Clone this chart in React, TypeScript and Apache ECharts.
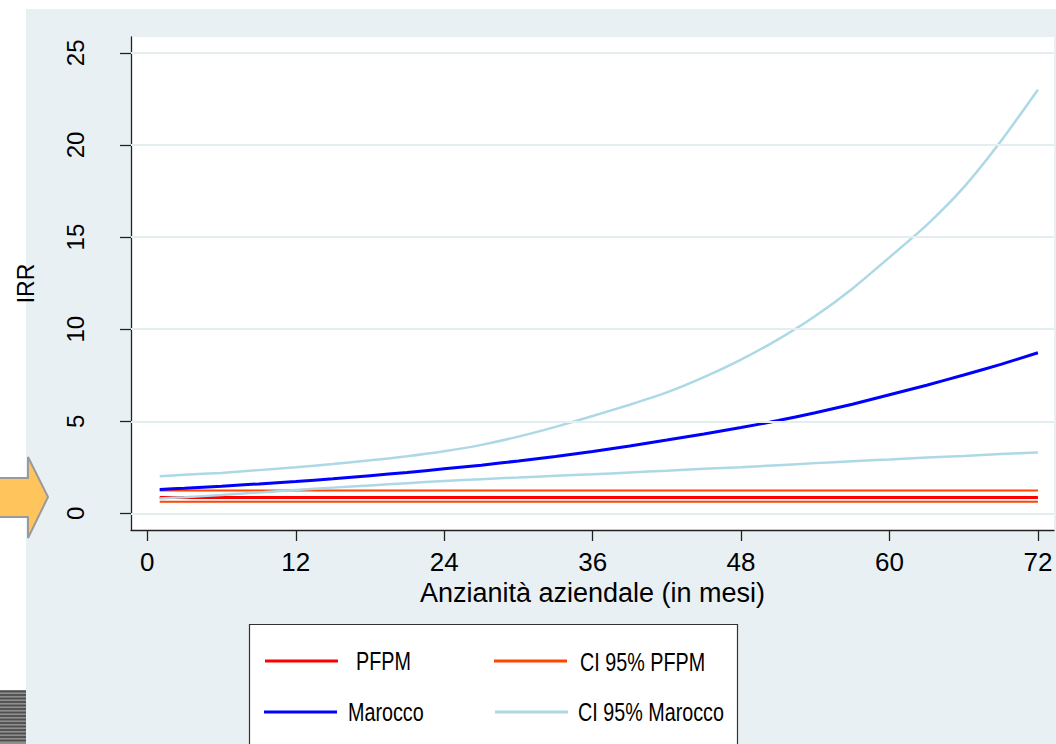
import React, { useEffect, useRef } from "react";
import * as echarts from "echarts";

// ---- data ----
const months = [1, 3, 6, 9, 12, 15, 18, 21, 24, 27, 30, 33, 36, 39, 42, 45, 48, 51, 54, 57, 60, 63, 66, 69, 72];
const marocco = [1.3, 1.37, 1.48, 1.6, 1.73, 1.88, 2.05, 2.22, 2.42, 2.62, 2.85, 3.09, 3.36, 3.66, 3.98, 4.31, 4.66, 5.04, 5.46, 5.93, 6.44, 6.96, 7.51, 8.09, 8.72];
const maroccoUpper = [2.02, 2.1, 2.2, 2.35, 2.5, 2.68, 2.88, 3.1, 3.37, 3.72, 4.17, 4.7, 5.29, 5.9, 6.57, 7.4, 8.35, 9.45, 10.72, 12.2, 13.9, 15.65, 17.7, 20.2, 23.0];
const maroccoLower = [0.81, 0.88, 1.0, 1.14, 1.27, 1.4, 1.52, 1.64, 1.76, 1.86, 1.95, 2.04, 2.12, 2.22, 2.32, 2.42, 2.51, 2.62, 2.73, 2.83, 2.93, 3.03, 3.12, 3.22, 3.31];

const pfpmMonths = [1, 72];
const pfpm = [0.87, 0.87];
const pfpmUpper = [1.25, 1.25];
const pfpmLower = [0.63, 0.63];

const xTicks = [0, 12, 24, 36, 48, 60, 72];
const yTicks = [0, 5, 10, 15, 20, 25];

const names = ["PFPM", "CI 95% PFPM", "Marocco", "CI 95% Marocco"];
const colors = ["#FF0000", "#FF4500", "#0000FF", "#ADD8E6"];

const FONT = "'Liberation Sans', Arial, sans-serif";

const pairs = (xs: number[], ys: number[]) => xs.map((m, i) => [m, ys[i]]);

export default function App() {
  const ref = useRef<HTMLDivElement>(null);

  useEffect(() => {
    if (!ref.current) return;
    const chart = echarts.init(ref.current, undefined, { renderer: "svg" });

    const lineSeries = (name: string, xs: number[], data: number[], color: string, width: number, extra: any = {}) => ({
      type: "line",
      name,
      data: pairs(xs, data),
      showSymbol: false,
      symbol: "none",
      smooth: 0.2,
      lineStyle: { color, width },
      itemStyle: { color },
      emphasis: { disabled: true },
      ...extra,
    });

    // decorative stripes on the left (slide artefact)
    const stripes: any[] = [];
    for (let y = 691.5; y < 744; y += 3.5) {
      stripes.push({
        type: "line",
        z: 2,
        shape: { x1: 0, y1: y, x2: 26, y2: y },
        style: { stroke: "#4e4e4e", lineWidth: 1.8 },
      });
    }

    // legend placement (icons from the legend component, labels as scaled text)
    const legendPos = [
      { left: 265, top: 648, tx: 356, ty: 661 },
      { left: 494, top: 648, tx: 580, ty: 662 },
      { left: 264, top: 699, tx: 348, ty: 712 },
      { left: 495, top: 699, tx: 578, ty: 712 },
    ];
    const legendLabels = names.map((n, i) => ({
      type: "text",
      z: 20,
      x: legendPos[i].tx,
      y: legendPos[i].ty,
      scaleX: 0.76,
      style: {
        text: n,
        fontSize: 26,
        fontFamily: FONT,
        fill: "#000",
        textAlign: "left",
        textVerticalAlign: "middle",
      },
    }));

    const option: any = {
      animation: false,
      backgroundColor: "transparent",
      textStyle: { fontFamily: FONT },
      grid: {
        left: 131,
        top: 37,
        right: 2,
        bottom: 214,
        show: true,
        backgroundColor: "#FFFFFF",
        borderWidth: 0,
        containLabel: false,
      },
      xAxis: {
        type: "value",
        min: -1.32,
        max: 73.3,
        name: "Anzianità aziendale (in mesi)",
        nameLocation: "middle",
        nameGap: 40,
        nameTextStyle: { fontSize: 27, color: "#000", fontFamily: FONT },
        axisLine: { show: true, onZero: false, lineStyle: { color: "#222", width: 1.3 } },
        axisTick: { show: true, length: 11, customValues: xTicks, lineStyle: { color: "#222", width: 1.3 } },
        axisLabel: {
          customValues: xTicks,
          fontSize: 26,
          color: "#000",
          margin: 19,
          fontFamily: FONT,
        },
        splitLine: { show: false },
      },
      yAxis: {
        type: "value",
        min: -0.9,
        max: 25.86,
        name: "IRR",
        nameLocation: "middle",
        nameGap: 94,
        nameTextStyle: { fontSize: 23, color: "#000", fontFamily: FONT },
        axisLine: { show: true, onZero: false, lineStyle: { color: "#222", width: 1.3 } },
        axisTick: { show: true, length: 11, customValues: yTicks, lineStyle: { color: "#222", width: 1.3 } },
        axisLabel: {
          customValues: yTicks,
          rotate: 90,
          fontSize: 24,
          color: "#000",
          margin: 44,
          fontFamily: FONT,
        },
        splitLine: { show: false },
      },
      legend: names.map((n, i) => ({
        show: true,
        data: [n],
        left: legendPos[i].left,
        top: legendPos[i].top,
        orient: "horizontal",
        padding: 0,
        itemWidth: 73,
        itemHeight: 3,
        icon: "rect",
        selectedMode: false,
        z: 10,
        itemStyle: { color: colors[i] },
        formatter: () => " ",
        textStyle: { fontSize: 25, lineHeight: 26, color: "#000" },
      })),
      graphic: [
        {
          type: "polygon",
          z: 1,
          shape: {
            points: [
              [-2, 478],
              [28, 478],
              [28, 457],
              [48, 497],
              [28, 538],
              [28, 517],
              [-2, 517],
            ],
          },
          style: { fill: "#FFC45C", stroke: "#9a9a9a", lineWidth: 2 },
        },
        {
          type: "rect",
          z: 1,
          shape: { x: 0, y: 690, width: 26, height: 54 },
          style: { fill: "#8e8e8e" },
        },
        ...stripes,
        {
          type: "rect",
          z: 1,
          shape: { x: 249.5, y: 624.5, width: 488, height: 140 },
          style: { fill: "#FFFFFF", stroke: "#333333", lineWidth: 1.2 },
        },
        ...legendLabels,
      ],
      series: [
        lineSeries(names[0], pfpmMonths, pfpm, colors[0], 3, {
          smooth: false,
          markLine: {
            silent: true,
            symbol: "none",
            label: { show: false },
            lineStyle: { color: "#E4EDF0", width: 2, type: "solid" },
            emphasis: { disabled: true },
            data: yTicks.map((v) => ({ yAxis: v })),
          },
        }),
        lineSeries(names[1], pfpmMonths, pfpmUpper, colors[1], 2, { smooth: false }),
        lineSeries(names[1], pfpmMonths, pfpmLower, colors[1], 2, { smooth: false }),
        lineSeries(names[2], months, marocco, colors[2], 3),
        lineSeries(names[3], months, maroccoUpper, colors[3], 2.5),
        lineSeries(names[3], months, maroccoLower, colors[3], 2.5),
      ],
    };

    chart.setOption(option);
    return () => chart.dispose();
  }, []);

  return (
    <div
      style={{
        position: "fixed",
        left: 0,
        top: 0,
        width: 1056,
        height: 744,
        background: "#FFFFFF",
        overflow: "hidden",
      }}
    >
      <div
        style={{
          position: "absolute",
          left: 26,
          top: 9,
          right: 0,
          bottom: 0,
          background: "#E8F0F3",
        }}
      />
      <div ref={ref} style={{ position: "absolute", left: 0, top: 0, width: 1056, height: 744 }} />
    </div>
  );
}
